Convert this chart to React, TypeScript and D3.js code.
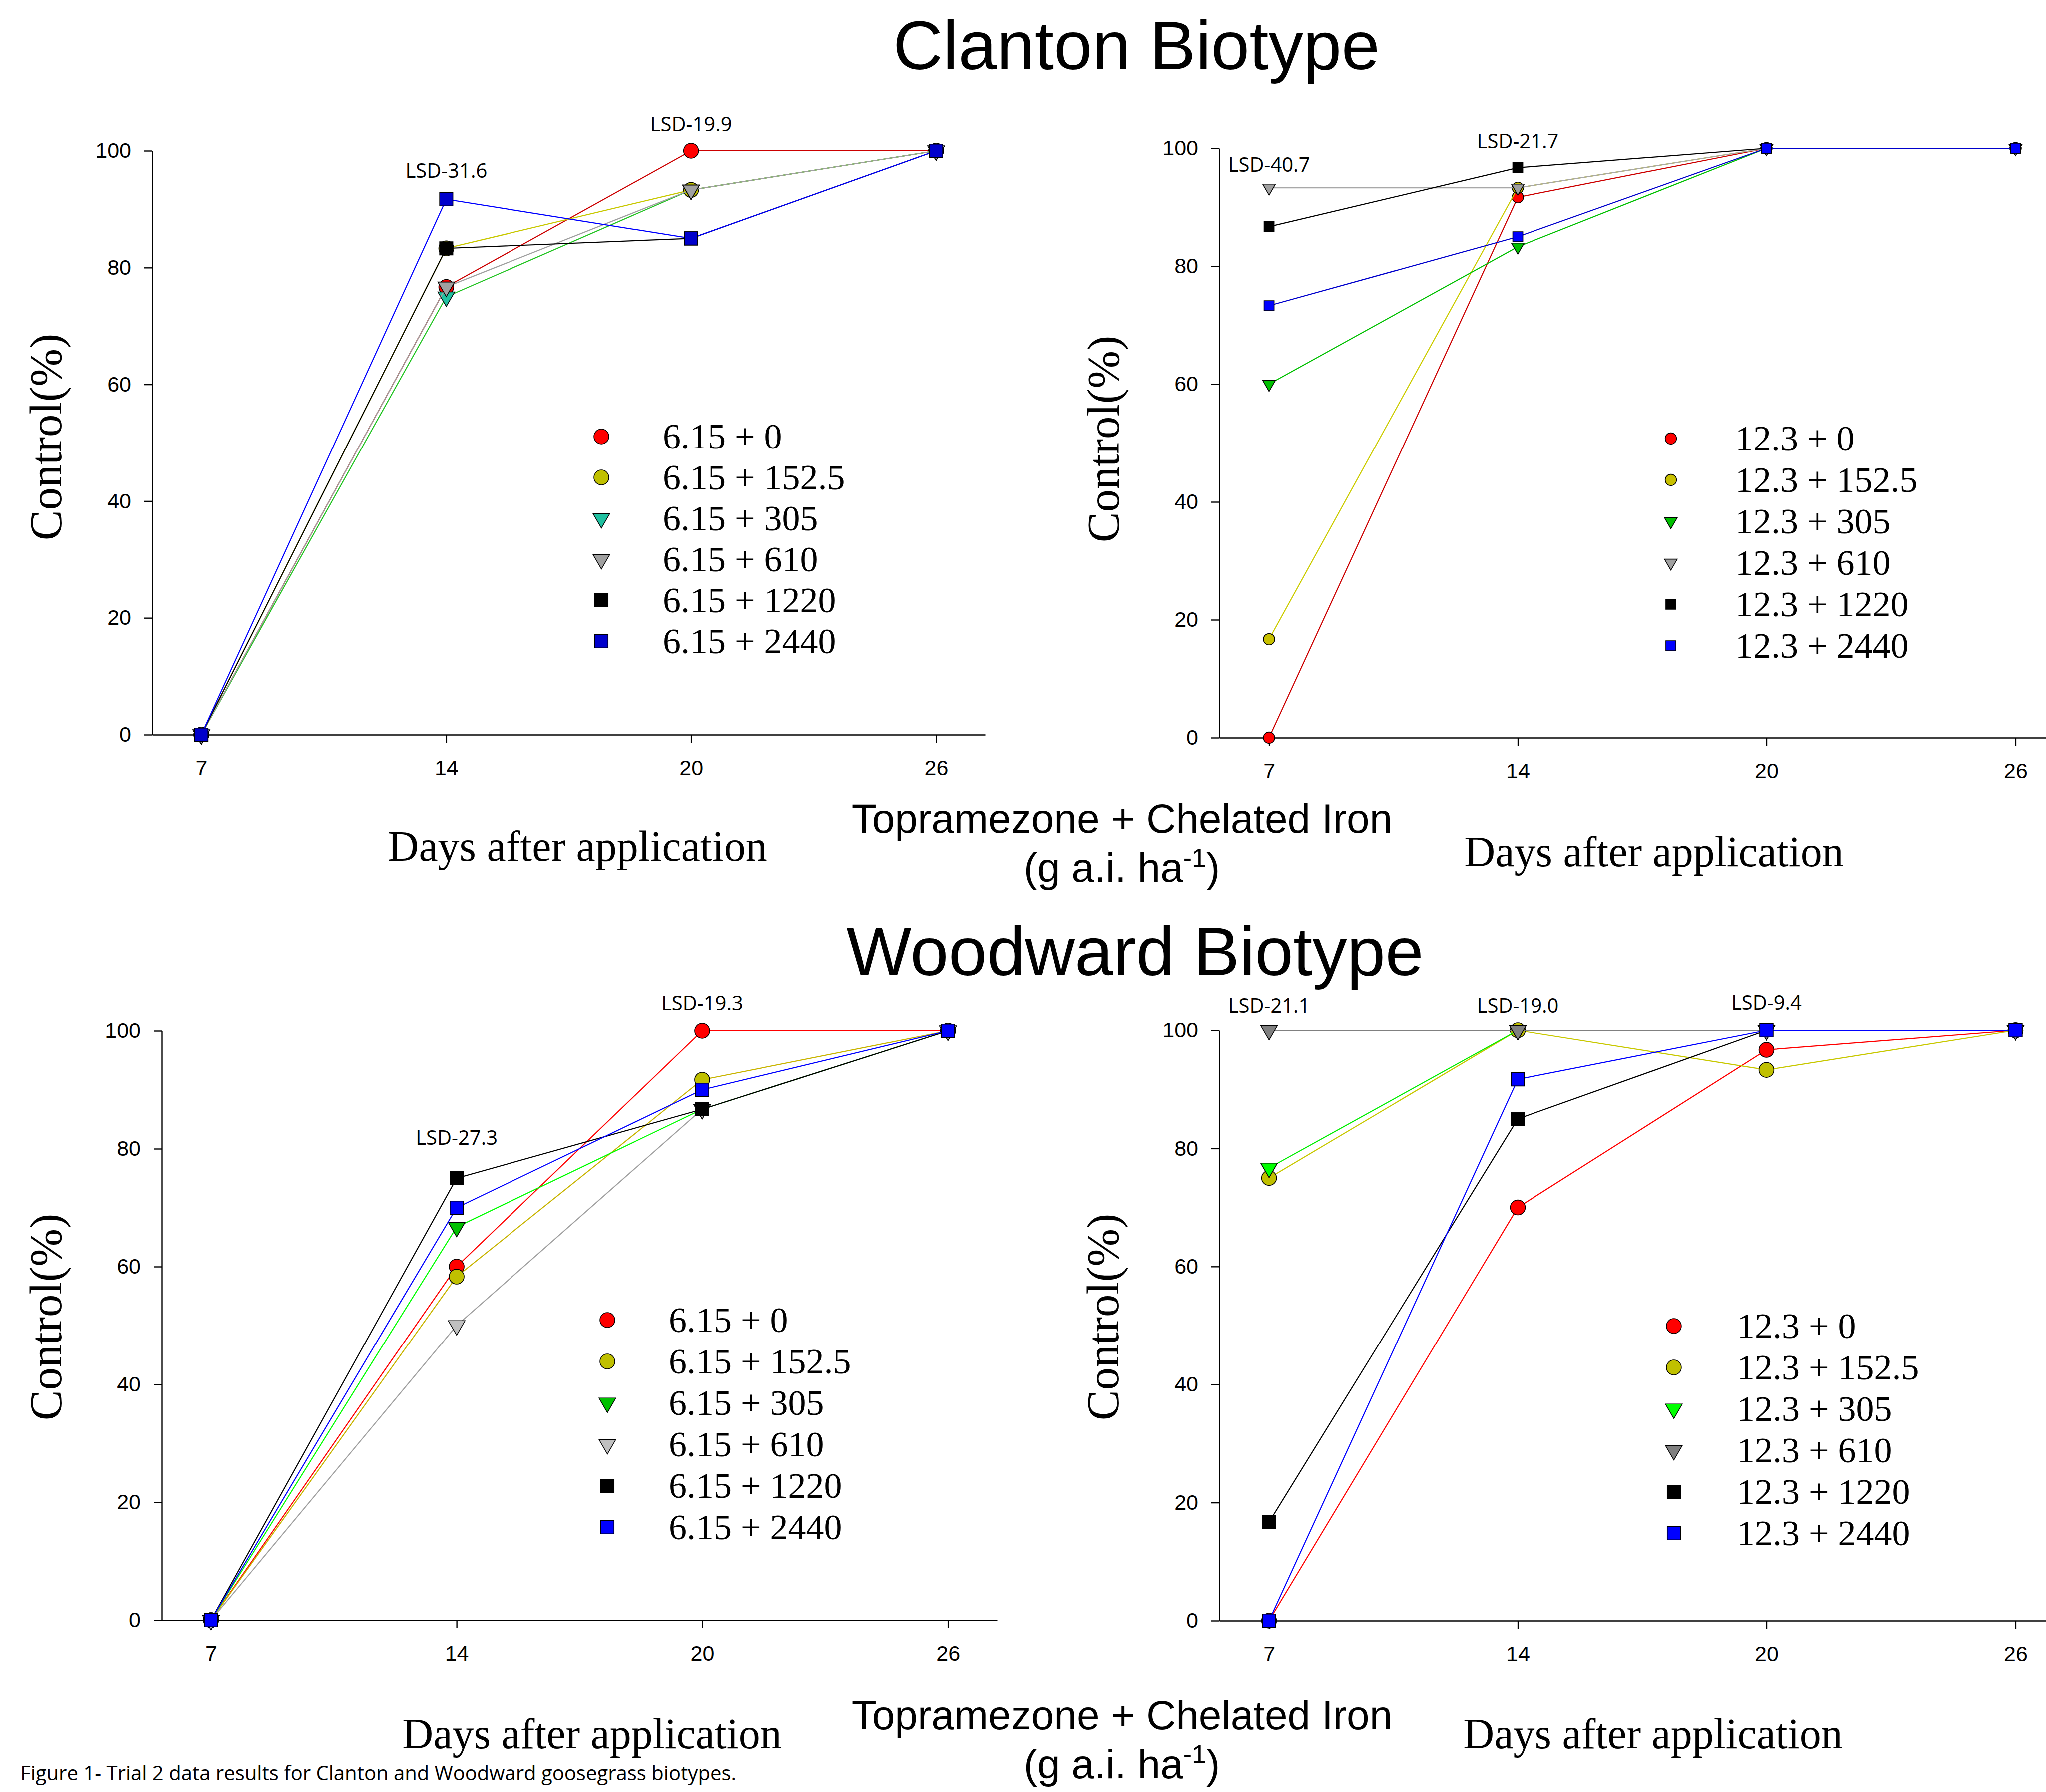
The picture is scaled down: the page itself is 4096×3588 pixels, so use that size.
import React, { useEffect, useRef } from "react";
import * as d3 from "d3";

// days after application (evenly spaced categories on the x axis)
const days = ["7", "14", "20", "26"];
const yTicks = [0, 20, 40, 60, 80, 100];
const ironRates = ["0", "152.5", "305", "610", "1220", "2440"];
const shapes = ["circle", "circle", "triangle", "triangle", "square", "square"];

// Clanton biotype, topramezone 6.15
const clanton615_0 = [0, 76.7, 100, 100];
const clanton615_152 = [0, 83.3, 93.3, 100];
const clanton615_305 = [0, 75, 93.3, 100];
const clanton615_610 = [0, 76.7, 93.3, 100];
const clanton615_1220 = [0, 83.3, 85, 100];
const clanton615_2440 = [0, 91.7, 85, 100];

// Clanton biotype, topramezone 12.3
const clanton123_0 = [0, 91.7, 100, 100];
const clanton123_152 = [16.7, 93.3, 100, 100];
const clanton123_305 = [60, 83.3, 100, 100];
const clanton123_610 = [93.3, 93.3, 100, 100];
const clanton123_1220 = [86.7, 96.7, 100, 100];
const clanton123_2440 = [73.3, 85, 100, 100];

// Woodward biotype, topramezone 6.15
const woodward615_0 = [0, 60, 100, 100];
const woodward615_152 = [0, 58.3, 91.7, 100];
const woodward615_305 = [0, 66.7, 86.7, 100];
const woodward615_610 = [0, 50, 86.7, 100];
const woodward615_1220 = [0, 75, 86.7, 100];
const woodward615_2440 = [0, 70, 90, 100];

// Woodward biotype, topramezone 12.3
const woodward123_0 = [0, 70, 96.7, 100];
const woodward123_152 = [75, 100, 93.3, 100];
const woodward123_305 = [76.7, 100, 100, 100];
const woodward123_610 = [100, 100, 100, 100];
const woodward123_1220 = [16.7, 85, 100, 100];
const woodward123_2440 = [0, 91.7, 100, 100];

// LSD notes: day they sit over, text, height (in % units) of the baseline
const clanton615Lsd = [{ day: "14", text: "LSD-31.6", at: 95.4 }, { day: "20", text: "LSD-19.9", at: 103.3 }];
const clanton123Lsd = [{ day: "7", text: "LSD-40.7", at: 96 }, { day: "14", text: "LSD-21.7", at: 100 }];
const woodward615Lsd = [{ day: "14", text: "LSD-27.3", at: 80.7 }, { day: "20", text: "LSD-19.3", at: 103.5 }];
const woodward123Lsd = [{ day: "7", text: "LSD-21.1", at: 103 }, { day: "14", text: "LSD-19.0", at: 103 }, { day: "20", text: "LSD-9.4", at: 103.5 }];

const SANS = "'Liberation Sans', Arial, sans-serif";
const SERIF = "'Liberation Serif', 'Times New Roman', serif";
const NOTE = "'Open Sans', sans-serif";

const panels = [
    {
        rate: "6.15", series: [clanton615_0, clanton615_152, clanton615_305, clanton615_610, clanton615_1220, clanton615_2440],
        lsd: clanton615Lsd,
        left: 305, right: 1972, top: 302, bottom: 1471, ms: 1.08,
        lineColors: ["#cc0000", "#c8c800", "#22c422", "#a0a0a0", "#000000", "#0000ff"],
        fillColors: ["#ff0000", "#c0c000", "#20c0a0", "#a0a0a0", "#000000", "#0000cc"],
        legX: 1204, legY: 874, legStep: 82, textX: 1327,
        labelX: 91, labelY: 875, daysX: 1156, daysY: 1723,
    },
    {
        rate: "12.3", series: [clanton123_0, clanton123_152, clanton123_305, clanton123_610, clanton123_1220, clanton123_2440],
        lsd: clanton123Lsd,
        left: 2441, right: 4134, top: 297, bottom: 1477, ms: 0.82,
        lineColors: ["#cc0000", "#cccc00", "#00c000", "#a8a8a8", "#000000", "#0000cc"],
        fillColors: ["#ff0000", "#c8c000", "#00c000", "#a0a0a0", "#000000", "#0000ff"],
        legX: 3345, legY: 878, legStep: 83, textX: 3474,
        labelX: 2208, labelY: 879, daysX: 3311, daysY: 1734,
    },
    {
        rate: "6.15", series: [woodward615_0, woodward615_152, woodward615_305, woodward615_610, woodward615_1220, woodward615_2440],
        lsd: woodward615Lsd,
        left: 324, right: 1996, top: 2064, bottom: 3244, ms: 1.08,
        lineColors: ["#ff0000", "#c8b400", "#00ff00", "#a0a0a0", "#000000", "#0000ff"],
        fillColors: ["#ff0000", "#c0c000", "#00c000", "#c0c0c0", "#000000", "#0000ff"],
        legX: 1216, legY: 2643, legStep: 83, textX: 1339,
        labelX: 91, labelY: 2637, daysX: 1185, daysY: 3500,
    },
    {
        rate: "12.3", series: [woodward123_0, woodward123_152, woodward123_305, woodward123_610, woodward123_1220, woodward123_2440],
        lsd: woodward123Lsd,
        left: 2441, right: 4134, top: 2063, bottom: 3245, ms: 1.08,
        lineColors: ["#ff0000", "#c8c800", "#00ee00", "#808080", "#000000", "#0000ff"],
        fillColors: ["#ff0000", "#c0c000", "#00ff00", "#808080", "#000000", "#0000ff"],
        legX: 3351, legY: 2655, legStep: 83, textX: 3477,
        labelX: 2207, labelY: 2637, daysX: 3309, daysY: 3500,
    },
];

const symbolPath = (shape, k) => {
    if (shape === "circle") return d3.symbol().type(d3.symbolCircle).size(600 * k * k)();
    if (shape === "square") return d3.symbol().type(d3.symbolSquare).size(600 * k * k)();
    return d3.symbol().type(d3.symbolTriangle).size(420 * k * k)();
};

const drawMarker = (g, shape, k, fill, cx, cy) => {
    g.append("path")
        .attr("d", symbolPath(shape, k))
        .attr("transform", `translate(${cx},${cy})` + (shape === "triangle" ? " rotate(180)" : ""))
        .attr("fill", fill)
        .attr("stroke", "#000")
        .attr("stroke-width", 1.6);
};

const drawPanel = (svg, p) => {
    const x = d3.scalePoint().domain(days).range([p.left, p.right]).padding(0.2);
    const y = d3.scaleLinear().domain([0, 100]).range([p.bottom, p.top]);

    const g = svg.append("g");

    // axes
    const xAxis = g.append("g")
        .attr("transform", `translate(0,${p.bottom})`)
        .call(d3.axisBottom(x).tickSize(16).tickSizeOuter(0).tickPadding(34));
    const yAxis = g.append("g")
        .attr("transform", `translate(${p.left},0)`)
        .call(d3.axisLeft(y).tickValues(yTicks).tickSize(16).tickSizeOuter(0).tickPadding(26));
    [xAxis, yAxis].forEach((a) => {
        a.attr("font-size", 43).attr("font-family", SANS);
        a.selectAll("path, line").attr("stroke", "#000").attr("stroke-width", 2.4);
        a.selectAll("text").attr("fill", "#000");
    });

    // series
    const line = d3.line()
        .x((d, i) => x(days[i]))
        .y((d) => y(d));

    p.series.forEach((values, i) => {
        g.append("path")
            .datum(values)
            .attr("d", line)
            .attr("fill", "none")
            .attr("stroke", p.lineColors[i])
            .attr("stroke-width", 2.2);
        values.forEach((v, j) => {
            drawMarker(g, shapes[i], p.ms, p.fillColors[i], x(days[j]), y(v));
        });
    });

    // LSD notes
    p.lsd.forEach((d) => {
        g.append("text")
            .attr("x", x(d.day))
            .attr("y", y(d.at))
            .attr("text-anchor", "middle")
            .attr("font-family", NOTE)
            .attr("font-size", 40)
            .text(d.text);
    });

    // legend
    ironRates.forEach((r, i) => {
        const ly = p.legY + i * p.legStep;
        drawMarker(g, shapes[i], p.ms, p.fillColors[i], p.legX, ly);
        g.append("text")
            .attr("x", p.textX)
            .attr("y", ly + 24)
            .attr("font-family", SERIF)
            .attr("font-size", 72)
            .text(`${p.rate} + ${r}`);
    });

    // axis titles
    g.append("text")
        .attr("transform", `translate(${p.labelX},${p.labelY}) rotate(-90)`)
        .attr("text-anchor", "middle")
        .attr("dy", "0.35em")
        .attr("font-family", SERIF)
        .attr("font-size", 91)
        .text("Control(%)");
    g.append("text")
        .attr("x", p.daysX)
        .attr("y", p.daysY)
        .attr("text-anchor", "middle")
        .attr("font-family", SERIF)
        .attr("font-size", 86)
        .text("Days after application");
};

const drawRateLabel = (svg, baseline) => {
    svg.append("text")
        .attr("x", 2246).attr("y", baseline)
        .attr("text-anchor", "middle")
        .attr("font-family", SANS).attr("font-size", 82)
        .text("Topramezone + Chelated Iron");
    const t = svg.append("text")
        .attr("x", 2246).attr("y", baseline + 98)
        .attr("text-anchor", "middle")
        .attr("font-family", SANS).attr("font-size", 82);
    t.append("tspan").text("(g a.i. ha");
    t.append("tspan").attr("dy", -30).attr("font-size", 52).text("-1");
    t.append("tspan").attr("dy", 30).text(")");
};

const Figure = () => {
    const container = useRef(null);

    useEffect(() => {
        const el = container.current;
        el.innerHTML = "";

        const svg = d3.select(el)
            .append("svg")
            .attr("width", 4096)
            .attr("height", 3588)
            .style("position", "absolute")
            .style("left", "0px")
            .style("top", "0px")
            .style("background", "#fff");

        svg.append("rect").attr("width", 4096).attr("height", 3588).attr("fill", "#fff");

        svg.append("text")
            .attr("x", 2275).attr("y", 139)
            .attr("text-anchor", "middle")
            .attr("font-family", SANS).attr("font-size", 138)
            .text("Clanton Biotype");
        svg.append("text")
            .attr("x", 2272).attr("y", 1953)
            .attr("text-anchor", "middle")
            .attr("font-family", SANS).attr("font-size", 138)
            .text("Woodward Biotype");

        panels.forEach((p) => drawPanel(svg, p));

        drawRateLabel(svg, 1667);
        drawRateLabel(svg, 3462);

        svg.append("text")
            .attr("x", 41).attr("y", 3564)
            .attr("font-family", NOTE).attr("font-size", 40)
            .attr("textLength", 1433).attr("lengthAdjust", "spacingAndGlyphs")
            .text("Figure 1- Trial 2 data results for Clanton and Woodward goosegrass biotypes.");
    }, []);

    return <div ref={container}></div>;
};

export default function App() {
    return <Figure />;
}
